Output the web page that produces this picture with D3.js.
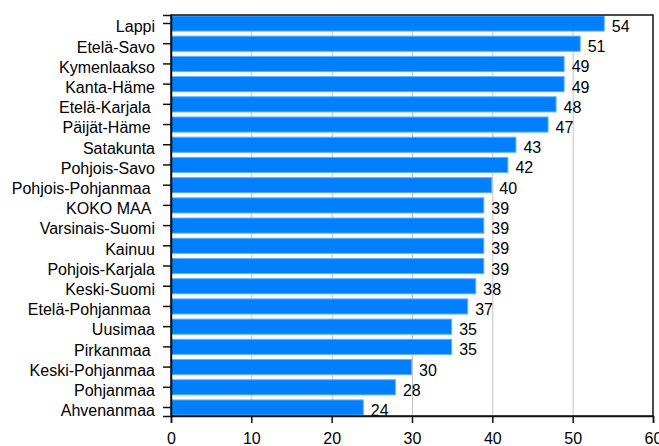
<!DOCTYPE html>
<html>
<head>
<meta charset="utf-8">
<script src="https://cdn.jsdelivr.net/npm/d3@7"></script>
<style>
  html, body { margin: 0; padding: 0; background: #fff; }
  svg { display: block; font-family: "Liberation Sans", Arial, sans-serif; }
  text { white-space: pre; }
</style>
</head>
<body>
<svg id="chart" width="659" height="446"></svg>
<script>
const regions = ['Lappi', 'Etelä-Savo', 'Kymenlaakso', 'Kanta-Häme', 'Etelä-Karjala ', 'Päijät-Häme ',
  'Satakunta', 'Pohjois-Savo', 'Pohjois-Pohjanmaa ', 'KOKO MAA ', 'Varsinais-Suomi', 'Kainuu',
  'Pohjois-Karjala', 'Keski-Suomi', 'Etelä-Pohjanmaa ', 'Uusimaa', 'Pirkanmaa ', 'Keski-Pohjanmaa',
  'Pohjanmaa', 'Ahvenanmaa'];
const values = [54, 51, 49, 49, 48, 47, 43, 42, 40, 39, 39, 39, 39, 38, 37, 35, 35, 30, 28, 24];
const xTicks = [0, 10, 20, 30, 40, 50, 60];

const margin = { top: 15, right: 6, bottom: 30, left: 171 };
const width = 659 - margin.left - margin.right;
const height = 446 - margin.top - margin.bottom;

const svg = d3.select('#chart');
const main = svg.append('g')
  .attr('transform', `translate(${margin.left},${margin.top})`);

const x = d3.scaleLinear()
  .domain([0, 60])
  .range([0, width]);

const y = d3.scaleBand()
  .domain(regions)
  .range([0, height])
  .paddingInner(0.2)
  .paddingOuter(0.02);

// grid lines behind the bars
main.append('g')
  .attr('class', 'grid')
  .selectAll('line')
  .data(xTicks.slice(1, -1))
  .join('line')
  .attr('x1', d => x(d) + 0.5)
  .attr('x2', d => x(d) + 0.5)
  .attr('y1', 0)
  .attr('y2', height)
  .attr('stroke', '#c4c4c4')
  .attr('stroke-width', 1);

const data = regions.map((name, i) => ({ name, value: values[i] }));

main.append('g')
  .attr('class', 'bars')
  .selectAll('rect')
  .data(data)
  .join('rect')
  .attr('x', 0.5)
  .attr('y', d => y(d.name) + 0.5)
  .attr('width', d => x(d.value) - 1)
  .attr('height', y.bandwidth() - 1)
  .attr('fill', '#0080ff')
  .attr('stroke', '#66b3ff')
  .attr('stroke-width', 1);

main.append('g')
  .attr('class', 'values')
  .selectAll('text')
  .data(data)
  .join('text')
  .attr('x', d => x(d.value) + 7)
  .attr('y', d => y(d.name) + y.bandwidth() / 2 + 8.5)
  .attr('font-size', 16)
  .attr('fill', '#000')
  .text(d => d.value);

// frame
main.append('rect')
  .attr('x', 0)
  .attr('y', 0)
  .attr('width', width)
  .attr('height', height)
  .attr('fill', 'none')
  .attr('stroke', '#111')
  .attr('stroke-width', 1.5);

const yAxis = d3.axisLeft(y)
  .tickSize(8)
  .tickPadding(8);

const yAxisG = main.append('g')
  .attr('class', 'yAxis')
  .call(yAxis);
yAxisG.select('.domain').attr('stroke', '#111').attr('stroke-width', 1.5);
yAxisG.selectAll('.tick line').attr('stroke', '#111').attr('stroke-width', 1.5);
yAxisG.selectAll('.tick text')
  .attr('font-size', 16)
  .attr('font-family', '"Liberation Sans", Arial, sans-serif')
  .attr('fill', '#000')
  .attr('dy', '0.55em');

const xAxis = d3.axisBottom(x)
  .tickValues(xTicks)
  .tickSize(7)
  .tickPadding(10);

const xAxisG = main.append('g')
  .attr('class', 'xAxis')
  .attr('transform', `translate(0,${height})`)
  .call(xAxis);
xAxisG.select('.domain').attr('stroke', '#111').attr('stroke-width', 1.5);
xAxisG.selectAll('.tick line').attr('stroke', '#111').attr('stroke-width', 1.5);
xAxisG.selectAll('.tick text')
  .attr('font-size', 16)
  .attr('font-family', '"Liberation Sans", Arial, sans-serif')
  .attr('fill', '#000');
</script>
</body>
</html>
